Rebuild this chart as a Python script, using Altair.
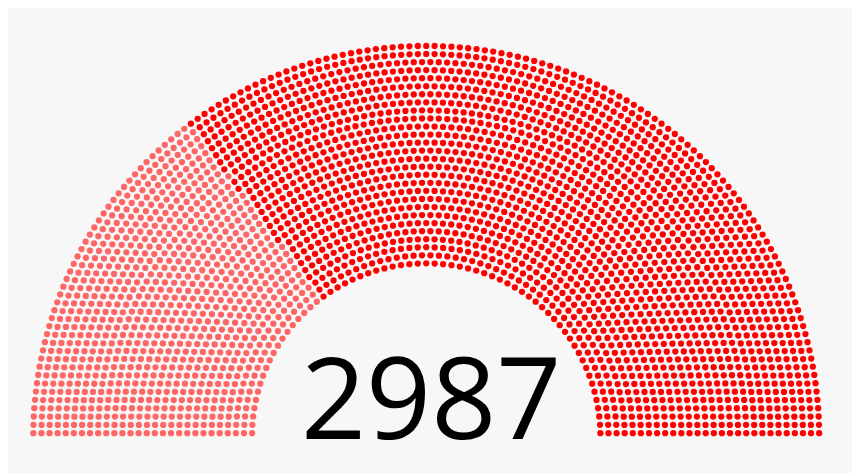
import math
import altair as alt
import pandas as pd

# ---- data ----
parties = ["Other deputies", "CPC"]
seats = [880, 2107]
colors = ["#FF6666", "#FF0000"]

total = sum(seats)

# ---- parliament arch layout (rows of evenly spaced seats) ----
def row_capacity(n, i):
    return int(math.pi / (2.0 * math.asin(2.0 / (3.0 * n + 4.0 * i - 2.0))))

rows = 1
while sum(row_capacity(rows, i) for i in range(1, rows + 1)) < total:
    rows += 1
cap_total = sum(row_capacity(rows, i) for i in range(1, rows + 1))
dot_r = 0.4 / rows

pos = []
def add_row(J, R):
    if J == 1:
        pos.append((math.pi / 2.0, 0.0, R))
        return
    off = math.sin(dot_r / R)
    for j in range(J):
        a = j * (math.pi - 2.0 * off) / (J - 1.0) + off
        pos.append((a, R * math.cos(a), R * math.sin(a)))

for i in range(1, rows):
    J = int(total / cap_total * math.pi / (2.0 * math.asin(2.0 / (3.0 * rows + 4.0 * i - 2.0))))
    add_row(J, (3.0 * rows + 4.0 * i - 2.0) / (4.0 * rows))
add_row(total - len(pos), (7.0 * rows - 2.0) / (4.0 * rows))
pos.sort(reverse=True)

party_col = []
for p, n in zip(parties, seats):
    party_col += [p] * n

df = pd.DataFrame({
    "x": [p[1] for p in pos],
    "y": [p[2] for p in pos],
    "party": party_col,
})

xs = alt.Scale(domain=[-1.8437, 1.8769], nice=False, zero=False)
ys = alt.Scale(domain=[-0.1525, 1.8906], nice=False, zero=False)

points = alt.Chart(df).mark_circle(size=40, opacity=1).encode(
    x=alt.X("x:Q", scale=xs, axis=None),
    y=alt.Y("y:Q", scale=ys, axis=None),
    color=alt.Color("party:N", scale=alt.Scale(domain=parties, range=colors), legend=None),
)

label_df = pd.DataFrame({"label": [str(total)], "x": [0.0], "y": [-0.0105]})
label = alt.Chart(label_df).mark_text(
    font="Open Sans", fontSize=115, align="center", baseline="alphabetic",
    color="black", dx=5
).encode(
    x=alt.X("x:Q", scale=xs, axis=None),
    y=alt.Y("y:Q", scale=ys, axis=None),
    text="label:N",
)

chart = alt.layer(points, label).properties(
    width=852, height=465,
    autosize=alt.AutoSizeParams(type="none"),
    padding=0,
    background="#F7F7F7",
).configure_view(stroke=None)

chart.save("out.html", embed_options={"renderer": "svg", "actions": False})
